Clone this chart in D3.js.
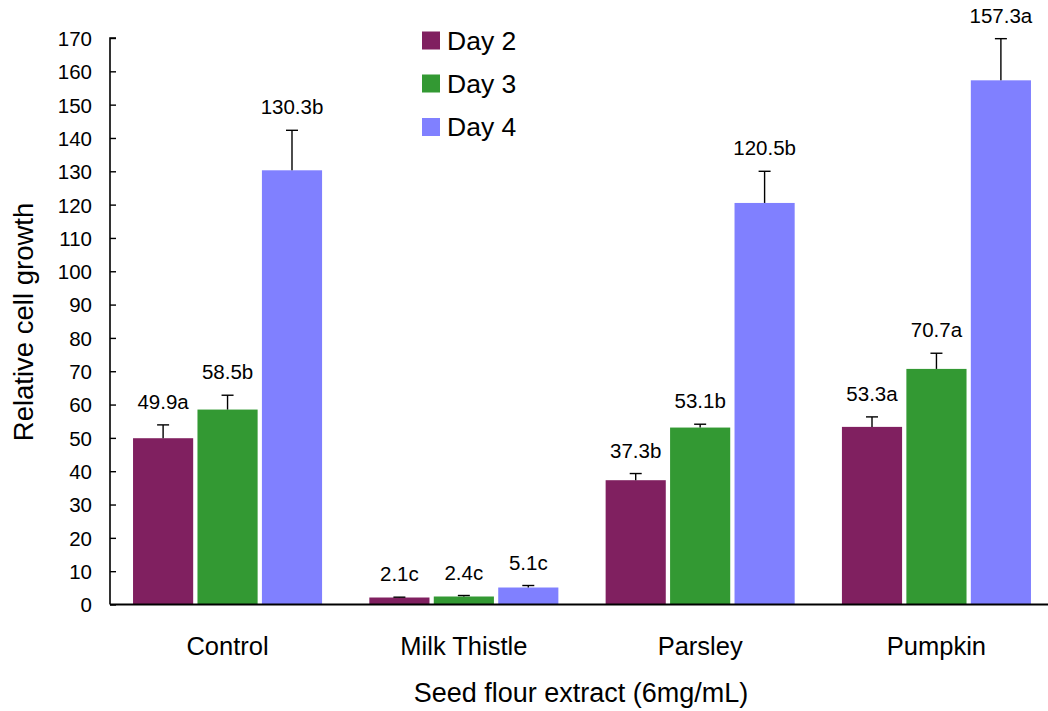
<!DOCTYPE html>
<html>
<head>
<meta charset="utf-8">
<script src="https://cdn.jsdelivr.net/npm/d3@7"></script>
<style>
  html, body { margin: 0; padding: 0; background: #fff; }
  svg { display: block; font-family: "Liberation Sans", Arial, sans-serif; }
</style>
</head>
<body>
<svg id="chart" width="1048" height="711"></svg>
<script>
// Relative cell growth by seed flour extract, days 2-4
const categories = ["Control", "Milk Thistle", "Parsley", "Pumpkin"];
const days = ["Day 2", "Day 3", "Day 4"];
const day2Values = [49.9, 2.1, 37.3, 53.3];
const day3Values = [58.5, 2.4, 53.1, 70.7];
const day4Values = [130.3, 5.1, 120.5, 157.3];
const day2Errors = [4.0, 0.1, 2.0, 3.0];
const day3Errors = [4.3, 0.3, 1.0, 4.7];
const day4Errors = [12.0, 0.6, 9.5, 12.5];
const day2Letters = ["a", "c", "b", "a"];
const day3Letters = ["b", "c", "b", "a"];
const day4Letters = ["b", "c", "b", "a"];
const yTicks = [0, 10, 20, 30, 40, 50, 60, 70, 80, 90, 100, 110, 120, 130, 140, 150, 160, 170];
const colors = ["#802060", "#339933", "#8080ff"];

const series = [
  { name: days[0], values: day2Values, errors: day2Errors, letters: day2Letters },
  { name: days[1], values: day3Values, errors: day3Errors, letters: day3Letters },
  { name: days[2], values: day4Values, errors: day4Errors, letters: day4Letters }
];

const svg = d3.select("#chart");
const axisX = 110;
const baseY = 604.5;

const x0 = d3.scaleBand().domain(categories).range([109.4, 1054.6])
  .paddingInner(0.2).paddingOuter(0.1);
const x1 = d3.scaleBand().domain(days).range([0, x0.bandwidth()])
  .paddingInner(0.0667).paddingOuter(0);
const y = d3.scaleLinear().domain([0, 170]).range([baseY, 38]);
const color = d3.scaleOrdinal().domain(days).range(colors);

// flatten into bar records
const bars = [];
series.forEach(s => {
  categories.forEach((c, i) => {
    bars.push({ cat: c, day: s.name, value: s.values[i], err: s.errors[i], letter: s.letters[i] });
  });
});

// bars
svg.append("g").selectAll("rect").data(bars).join("rect")
  .attr("x", d => x0(d.cat) + x1(d.day))
  .attr("y", d => y(d.value))
  .attr("width", x1.bandwidth())
  .attr("height", d => y(0) - y(d.value))
  .attr("fill", d => color(d.day));

// error bars (upper only)
const eb = svg.append("g").attr("stroke", "#000").attr("stroke-width", 1.4);
bars.forEach(d => {
  const cx = x0(d.cat) + x1(d.day) + x1.bandwidth() / 2;
  eb.append("line").attr("x1", cx).attr("x2", cx)
    .attr("y1", y(d.value)).attr("y2", y(d.value + d.err));
  eb.append("line").attr("x1", cx - 6).attr("x2", cx + 6)
    .attr("y1", y(d.value + d.err)).attr("y2", y(d.value + d.err));
});

// value labels
svg.append("g").selectAll("text").data(bars).join("text")
  .attr("x", d => x0(d.cat) + x1(d.day) + x1.bandwidth() / 2)
  .attr("y", d => y(d.value + d.err) - 16)
  .attr("text-anchor", "middle")
  .attr("font-size", 20.5)
  .attr("fill", "#000")
  .text(d => d.value.toFixed(1) + d.letter);

// y axis
const yAxis = d3.axisRight(y).tickValues(yTicks).tickSize(6).tickFormat(d3.format("d"));
const gy = svg.append("g").attr("transform", `translate(${axisX},0)`).call(yAxis);
gy.select(".domain").attr("d", `M6,${y(170)}H0V${baseY}`).attr("stroke-width", 1.6);
gy.selectAll(".tick line").attr("stroke-width", 1.4);
gy.selectAll(".tick text")
  .attr("x", -18).attr("dy", "0.36em")
  .attr("text-anchor", "end")
  .attr("font-size", 20.5)
  .attr("font-family", "Liberation Sans, Arial, sans-serif")
  .attr("fill", "#000");

// x axis baseline
const xAxis = d3.axisBottom(x0).tickSize(0).tickFormat("");
const gx = svg.append("g").attr("transform", `translate(0,${baseY})`).call(xAxis);
gx.select(".domain").attr("d", `M${axisX},0H1048`).attr("stroke-width", 1.8);
gx.selectAll(".tick").remove();

// category labels
svg.append("g").selectAll("text").data(categories).join("text")
  .attr("x", d => x0(d) + x0.bandwidth() / 2)
  .attr("y", 655)
  .attr("text-anchor", "middle")
  .attr("font-size", 25.5)
  .attr("fill", "#000")
  .text(d => d);

// axis titles
svg.append("text")
  .attr("x", 581).attr("y", 702)
  .attr("text-anchor", "middle")
  .attr("font-size", 27)
  .attr("fill", "#000")
  .text("Seed flour extract (6mg/mL)");

svg.append("text")
  .attr("transform", "translate(33,322) rotate(-90)")
  .attr("text-anchor", "middle")
  .attr("font-size", 27.5)
  .attr("fill", "#000")
  .text("Relative cell growth");

// legend
const legend = svg.append("g");
const legendY = [40.5, 83.5, 127];
days.forEach((d, i) => {
  legend.append("rect")
    .attr("x", 422).attr("y", legendY[i] - 9)
    .attr("width", 18).attr("height", 18)
    .attr("fill", color(d));
  legend.append("text")
    .attr("x", 447).attr("y", legendY[i] + 9)
    .attr("font-size", 26.5)
    .attr("fill", "#000")
    .text(d);
});
</script>
</body>
</html>
